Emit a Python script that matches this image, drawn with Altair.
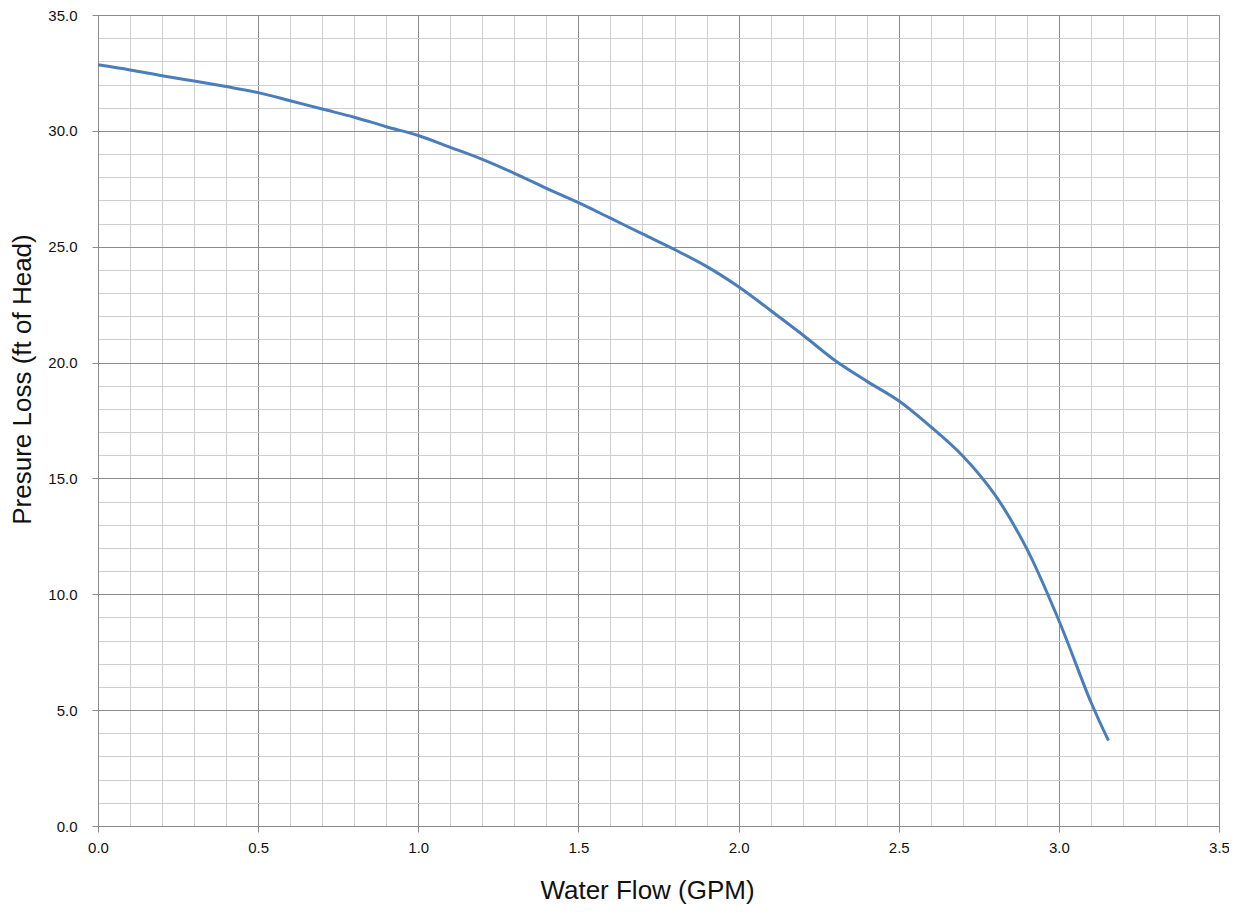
import altair as alt
import pandas as pd

# Data
flow_gpm = [0.0, 0.1, 0.2, 0.3, 0.4, 0.5, 0.6, 0.7, 0.8, 0.9,
            1.0, 1.1, 1.2, 1.3, 1.4, 1.5, 1.6, 1.7, 1.8, 1.9,
            2.0, 2.1, 2.2, 2.3, 2.4, 2.5, 2.6, 2.7, 2.8, 2.9,
            3.0, 3.1, 3.155]
pressure_loss = [32.85, 32.63, 32.38, 32.15, 31.91, 31.65, 31.30, 30.94, 30.59, 30.18,
                 29.80, 29.29, 28.77, 28.17, 27.52, 26.90, 26.23, 25.55, 24.88, 24.15,
                 23.27, 22.25, 21.20, 20.10, 19.20, 18.35, 17.23, 15.97, 14.30, 11.96,
                 8.87, 5.35, 3.68]

x_ticks = [0.0, 0.1, 0.2, 0.3, 0.4, 0.5, 0.6, 0.7, 0.8, 0.9, 1.0, 1.1, 1.2,
           1.3, 1.4, 1.5, 1.6, 1.7, 1.8, 1.9, 2.0, 2.1, 2.2, 2.3, 2.4, 2.5,
           2.6, 2.7, 2.8, 2.9, 3.0, 3.1, 3.2, 3.3, 3.4, 3.5]
y_ticks = [0, 1, 2, 3, 4, 5, 6, 7, 8, 9, 10, 11, 12, 13, 14, 15, 16, 17, 18,
           19, 20, 21, 22, 23, 24, 25, 26, 27, 28, 29, 30, 31, 32, 33, 34, 35]

df = pd.DataFrame({"flow": flow_gpm, "loss": pressure_loss})

MAJOR = "#8c8c8c"
MINOR = "#cfcfcf"
x_major = "abs(datum.value*2 - round(datum.value*2)) < 0.001"
y_major = "abs(datum.value/5 - round(datum.value/5)) < 0.001"

x_axis = alt.Axis(
    values=x_ticks,
    labelExpr=f"{x_major} ? format(datum.value, '.1f') : ''",
    labelOverlap=False,
    labelFlush=False,
    labelFont="Liberation Sans", labelFontSize=15, labelColor="#111111",
    labelPadding=8,
    grid=True,
    gridColor={"condition": {"test": x_major, "value": MAJOR}, "value": MINOR},
    gridWidth=1,
    tickColor={"condition": {"test": x_major, "value": MAJOR}, "value": "transparent"},
    tickSize=6,
    domainColor=MAJOR,
    title="Water Flow (GPM)",
    titleFont="Liberation Sans", titleFontSize=26, titleFontWeight="normal",
    titleColor="#111111",
    titleX=549, titleY=64, titleBaseline="middle", titleAlign="center",
)

y_axis = alt.Axis(
    values=y_ticks,
    labelExpr=f"{y_major} ? format(datum.value, '.1f') : ''",
    labelOverlap=False,
    labelFlush=False,
    labelFont="Liberation Sans", labelFontSize=15, labelColor="#111111",
    labelPadding=15,
    grid=True,
    gridColor={"condition": {"test": y_major, "value": MAJOR}, "value": MINOR},
    gridWidth=1,
    tickColor={"condition": {"test": y_major, "value": MAJOR}, "value": "transparent"},
    tickSize=6,
    domainColor=MAJOR,
    title="Presure Loss (ft of Head)",
    titleFont="Liberation Sans", titleFontSize=26, titleFontWeight="normal",
    titleColor="#111111",
    titleX=-76, titleY=364, titleBaseline="middle", titleAlign="center", titleAngle=270,
)

chart = alt.Chart(df).mark_line(
    color="#4a7ebb", strokeWidth=3, interpolate="catmull-rom"
).encode(
    x=alt.X("flow:Q", scale=alt.Scale(domain=[0, 3.5], nice=False, zero=True), axis=x_axis),
    y=alt.Y("loss:Q", scale=alt.Scale(domain=[0, 35], nice=False), axis=y_axis),
).properties(
    width=1121,
    height=811,
    autosize=alt.AutoSizeParams(type="none"),
    padding={"left": 90, "top": 7, "right": 10, "bottom": 78},
).configure_view(
    stroke=None
).configure(background="white")

chart.save("out.html", embed_options={"renderer": "svg", "actions": False})
